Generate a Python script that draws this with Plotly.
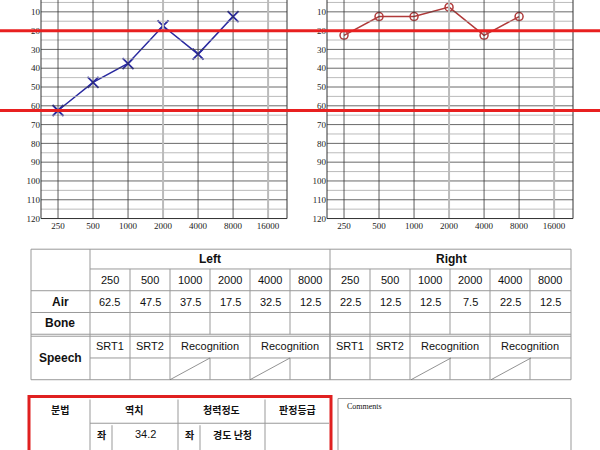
import plotly.graph_objects as go

freqs = ["250", "500", "1000", "2000", "4000", "8000", "16000"]
left_air = [62.5, 47.5, 37.5, 17.5, 32.5, 12.5]
right_air = [22.5, 12.5, 12.5, 7.5, 22.5, 12.5]
db_ticks = [10, 20, 30, 40, 50, 60, 70, 80, 90, 100, 110, 120]
ref_lines = [20, 62.5]
table_freqs = ["250", "500", "1000", "2000", "4000", "8000"]
left_tbl = ["62.5", "47.5", "37.5", "17.5", "32.5", "12.5"]
right_tbl = ["22.5", "12.5", "12.5", "7.5", "22.5", "12.5"]

W, H = 600, 450
def X(p): return p / W
def Y(p): return 1 - p / H

fig = go.Figure()
xi = list(range(len(left_air)))
fig.add_trace(go.Scatter(x=xi, y=left_air, mode="lines+markers", xaxis="x", yaxis="y",
    line=dict(color="#2a2aa0", width=1.5),
    marker=dict(symbol="x-thin", size=11, line=dict(color="#2a2aa0", width=1.8))))
fig.add_trace(go.Scatter(x=xi, y=right_air, mode="lines+markers", xaxis="x2", yaxis="y2",
    line=dict(color="#b03a3a", width=1.5),
    marker=dict(symbol="circle-open", size=8, color="#b03a3a", line=dict(width=1.5))))

shapes = []
ann = []
font_ax = dict(family="Liberation Serif", size=9, color="#222")
for xa, ya in [("x", "y"), ("x2", "y2")]:
    for v in range(5, 121, 5):
        c = "#444" if v % 10 == 0 else "#aaa"
        shapes.append(dict(type="line", xref=xa + " domain", yref=ya, x0=0, x1=1, y0=v, y1=v,
                           line=dict(color=c, width=0.8)))
    for i, f in enumerate(freqs):
        gray = f in ("2000", "16000")
        shapes.append(dict(type="line", xref=xa, yref=ya + " domain", x0=i, x1=i, y0=0, y1=1,
                           line=dict(color="#bbb" if gray else "#333", width=2 if gray else 0.8)))
    for s in (0, 1):
        shapes.append(dict(type="line", xref=xa + " domain", yref=ya + " domain", x0=s, x1=s, y0=0, y1=1,
                           line=dict(color="#333", width=1)))
    shapes.append(dict(type="line", xref=xa + " domain", yref=ya + " domain", x0=0, x1=1, y0=0, y1=0,
                       line=dict(color="#333", width=1)))

for v in ref_lines:
    shapes.append(dict(type="line", xref="paper", yref="y", x0=0, x1=1, y0=v, y1=v,
                       line=dict(color="#e82020", width=3)))

axx = dict(tickmode="array", tickvals=list(range(7)), ticktext=freqs, range=[-0.486, 6.54],
           showgrid=False, zeroline=False, tickfont=font_ax, ticks="", showline=False, fixedrange=True)
axy = dict(tickmode="array", tickvals=db_ticks, range=[120, 3.7], showgrid=False, zeroline=False,
           tickfont=font_ax, ticks="", showline=False, fixedrange=True)

def line(x0, y0, x1, y1, c="#999", w=1):
    shapes.append(dict(type="line", xref="paper", yref="paper", x0=X(x0), y0=Y(y0), x1=X(x1), y1=Y(y1),
                       line=dict(color=c, width=w)))
def txt(x, y, t, size=11, bold=False, fam="Liberation Sans", color="#111", xanchor="center"):
    ann.append(dict(xref="paper", yref="paper", x=X(x), y=Y(y), text=("<b>%s</b>" % t) if bold else t,
                    showarrow=False, xanchor=xanchor, yanchor="middle", font=dict(family=fam, size=size, color=color)))

# Table 1
T, R1, R2, R3, R4, R5, R6 = 252, 272, 294, 316, 338, 362, 384
L0, C0, R = 31, 90, 571
cols = [90 + 40 * k for k in range(13)]
for y in (T, R2, R3, R4, R6):
    line(L0, y, R, y)
line(L0, R4 + 2, R, R4 + 2)
line(C0, R1, R, R1)
line(C0, R5, R, R5)
line(L0, T, L0, R6); line(R, T, R, R6); line(C0, T, C0, R6)
line(330, T, 330, R6)
for k, cx in enumerate(cols[1:-1], 1):
    line(cx, R1, cx, R4)
    line(cx, R5, cx, R6)
    if k % 6 not in (3, 5):
        line(cx, R4, cx, R5)
for cx in (170, 250, 411, 491):
    line(cx, R6, cx + 40, R5, c="#777", w=0.8)
txt(210, 262, "Left", 12, True)
txt(451, 262, "Right", 12, True)
for k in range(12):
    cx = 110 + 40 * k
    txt(cx, 283, table_freqs[k % 6], 11)
    txt(cx, 305, (left_tbl + right_tbl)[k], 11)
txt(60, 305, "Air", 12, True)
txt(60, 327, "Bone", 12, True)
txt(60, 362, "Speech", 12, True)
for base in (90, 330):
    txt(base + 20, 350, "SRT1", 11)
    txt(base + 60, 350, "SRT2", 11)
    txt(base + 120, 350, "Recognition", 11)
    txt(base + 200, 350, "Recognition", 11)

# Table 2
line(90, 404, 90, 460); line(178, 404, 178, 460); line(265, 404, 265, 460)
line(90, 428, 329, 428)
line(112, 430, 112, 460); line(200, 430, 200, 460)
shapes.append(dict(type="rect", xref="paper", yref="paper", x0=X(29), x1=X(331), y0=Y(401), y1=Y(470),
                   line=dict(color="#e02020", width=3)))
txt(60, 414, "분법", 10, True, "Noto Sans CJK KR")
txt(134, 414, "역치", 10, True, "Noto Sans CJK KR")
txt(221, 414, "청력정도", 10, True, "Noto Sans CJK KR")
txt(297, 414, "판정등급", 10, True, "Noto Sans CJK KR")
txt(101, 439, "좌", 10, True, "Noto Sans CJK KR")
txt(145, 439, "34.2", 11)
txt(189, 439, "좌", 10, True, "Noto Sans CJK KR")
txt(232, 439, "경도 난청", 10, True, "Noto Sans CJK KR")
shapes.append(dict(type="rect", xref="paper", yref="paper", x0=X(338), x1=X(571), y0=Y(403), y1=Y(470),
                   line=dict(color="#999", width=1)))
txt(345, 411, "Comments", 8, fam="Liberation Serif", xanchor="left")

fig.update_layout(
    width=W, height=H, margin=dict(l=0, r=0, t=0, b=0), showlegend=False,
    paper_bgcolor="white", plot_bgcolor="white", hovermode=False,
    xaxis=dict(axx, domain=[X(41), X(287)], anchor="y"),
    yaxis=dict(axy, domain=[Y(221), 1], anchor="x"),
    xaxis2=dict(axx, domain=[X(327), X(573)], anchor="y2"),
    yaxis2=dict(axy, domain=[Y(221), 1], anchor="x2"),
    shapes=shapes, annotations=ann)
fig.write_html("out.html", config={"displayModeBar": False},
               post_script="document.body.style.margin='0px';")
